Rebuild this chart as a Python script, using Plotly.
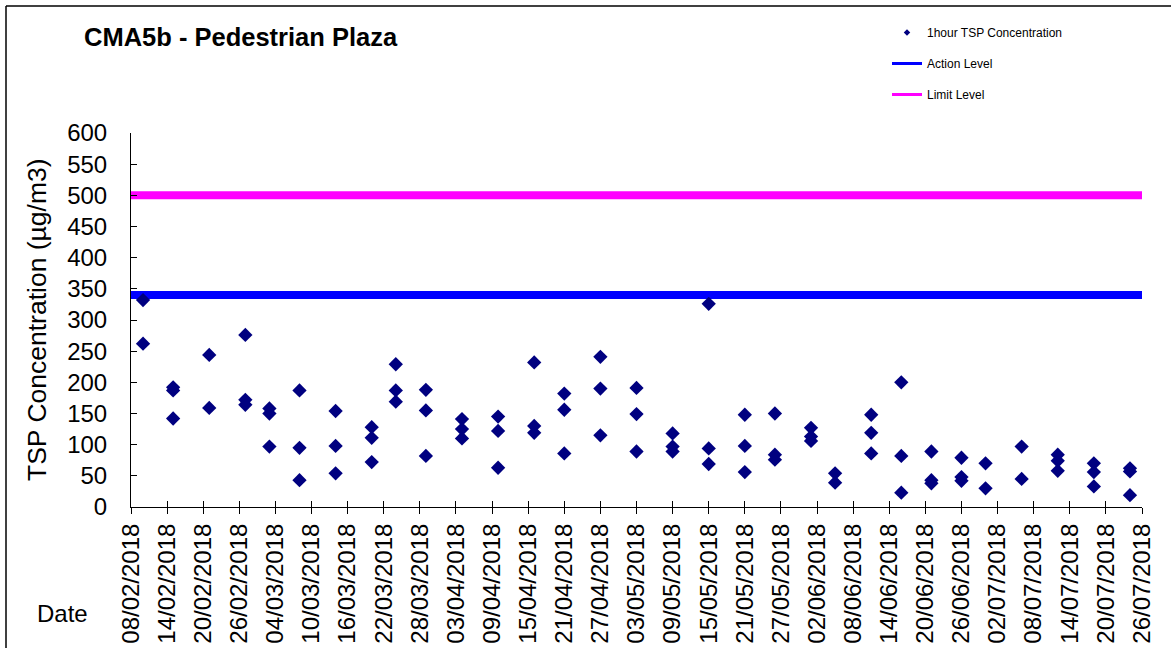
import plotly.graph_objects as go

# ---- data ----
sample_dates = [
    "2018-02-10", "2018-02-15", "2018-02-21", "2018-02-27", "2018-03-03",
    "2018-03-08", "2018-03-14", "2018-03-20", "2018-03-24", "2018-03-29",
    "2018-04-04", "2018-04-10", "2018-04-16", "2018-04-21", "2018-04-27",
    "2018-05-03", "2018-05-09", "2018-05-15", "2018-05-21", "2018-05-26",
    "2018-06-01", "2018-06-05", "2018-06-11", "2018-06-16", "2018-06-21",
    "2018-06-26", "2018-06-30", "2018-07-06", "2018-07-12", "2018-07-18",
    "2018-07-24",
]
sample_values = [
    [332, 262], [192, 187, 142], [244, 159], [276, 172, 164], [158, 150, 97],
    [187, 95, 43], [154, 98, 54], [128, 111, 72], [229, 187, 169], [188, 155, 82],
    [141, 125, 110], [145, 122, 63], [232, 130, 119], [182, 156, 86], [241, 190, 115],
    [191, 149, 89], [118, 97, 89], [326, 94, 69], [148, 98, 56], [150, 84, 76],
    [127, 113, 106], [54, 39], [148, 119, 86], [200, 82, 23], [89, 43, 38],
    [79, 48, 42], [70, 30], [97, 45], [84, 74, 58], [70, 56, 33],
    [62, 57, 19],
]
axis_start = "2018-02-08"
axis_end = "2018-07-26"
action_level = 340
limit_level = 500
series_names = ["1hour TSP Concentration", "Action Level", "Limit Level"]

x_pts, y_pts = [], []
for d, vals in zip(sample_dates, sample_values):
    for v in vals:
        x_pts.append(d)
        y_pts.append(v)

FONT = "Liberation Sans, Arial, sans-serif"
NAVY = "#000080"
BLUE = "#0000FF"
MAGENTA = "#FF00FF"
DAY_MS = 86400000

fig = go.Figure()
# level lines (plot)
fig.add_trace(go.Scatter(x=[axis_start, axis_end], y=[limit_level, limit_level], mode="lines",
                         line=dict(color=MAGENTA, width=8), showlegend=False, hoverinfo="skip"))
fig.add_trace(go.Scatter(x=[axis_start, axis_end], y=[action_level, action_level], mode="lines",
                         line=dict(color=BLUE, width=8), showlegend=False, hoverinfo="skip"))
# data points
fig.add_trace(go.Scatter(x=x_pts, y=y_pts, mode="markers",
                         marker=dict(symbol="diamond", size=11, color=NAVY),
                         name=series_names[0], showlegend=False))
# legend entries
fig.add_trace(go.Scatter(x=[None], y=[None], mode="markers", name=series_names[0],
                         marker=dict(symbol="diamond", size=5, color=NAVY), legendgroup="a"))
fig.add_trace(go.Scatter(x=[None], y=[None], mode="lines", name=series_names[1],
                         line=dict(color=BLUE, width=3), legendgroup="b"))
fig.add_trace(go.Scatter(x=[None], y=[None], mode="lines", name=series_names[2],
                         line=dict(color=MAGENTA, width=3), legendgroup="c"))

L, R, T, B = 131, 29, 133, 141
W, H = 1171, 648
pw, ph = W - L - R, H - T - B

def px(xp):
    return (xp - L) / pw

def py(yp):
    return (H - B - yp) / ph

fig.update_layout(
    width=W, height=H,
    margin=dict(l=L, r=R, t=T, b=B, autoexpand=False),
    paper_bgcolor="white", plot_bgcolor="white",
    font=dict(family=FONT, color="black"),
    showlegend=True,
    legend=dict(x=px(887), y=py(18), xanchor="left", yanchor="top",
                font=dict(size=12, family=FONT), tracegroupgap=12,
                bgcolor="rgba(0,0,0,0)"),
    xaxis=dict(type="date", range=[axis_start, axis_end], automargin=False,
               tick0=axis_start, dtick=6 * DAY_MS, tickformat="%d/%m/%Y",
               tickangle=-90, ticks="outside", ticklen=6, tickcolor="black",
               showline=True, linecolor="black", linewidth=1,
               showgrid=False, zeroline=False,
               tickfont=dict(size=24, family=FONT)),
    xaxis2=dict(type="date", range=[axis_start, axis_end], overlaying="x", anchor="y",
                automargin=False,
                tick0=axis_start, dtick=6 * DAY_MS, ticks="inside", ticklen=6,
                tickcolor="black", showticklabels=False, showgrid=False,
                zeroline=False, showline=False),
    yaxis=dict(range=[0, 600], dtick=50, ticks="inside", ticklen=6, tickcolor="black",
               automargin=False,
               showline=True, linecolor="black", linewidth=1,
               showgrid=False, zeroline=False, ticklabelstandoff=18,
               tickfont=dict(size=24, family=FONT)),
)
fig.add_trace(go.Scatter(x=[axis_start], y=[None], xaxis="x2", showlegend=False,
                         hoverinfo="skip", mode="markers"))

fig.add_annotation(text="<b>CMA5b - Pedestrian Plaza</b>", xref="paper", yref="paper",
                   x=px(82), y=py(37), xanchor="left", yanchor="middle", showarrow=False,
                   font=dict(size=25.5, family=FONT))
fig.add_annotation(text="TSP Concentration (µg/m3)", xref="paper", yref="paper",
                   x=px(37), y=py(320), xanchor="center", yanchor="middle", textangle=-90,
                   showarrow=False, font=dict(size=26.5, family=FONT))
fig.add_annotation(text="Date", xref="paper", yref="paper",
                   x=px(62), y=py(613), xanchor="center", yanchor="middle",
                   showarrow=False, font=dict(size=24, family=FONT))

# outer chart frame (left and top edges)
fig.add_shape(type="line", xref="paper", yref="paper", x0=px(6), x1=px(6), y0=py(6), y1=py(660),
              line=dict(color="black", width=1.5))
fig.add_shape(type="line", xref="paper", yref="paper", x0=px(6), x1=px(1180), y0=py(6), y1=py(6),
              line=dict(color="black", width=1.5))

fig.write_html("out.html", config={"displayModeBar": False},
               post_script="document.body.style.margin='0';document.body.style.overflow='hidden';")
